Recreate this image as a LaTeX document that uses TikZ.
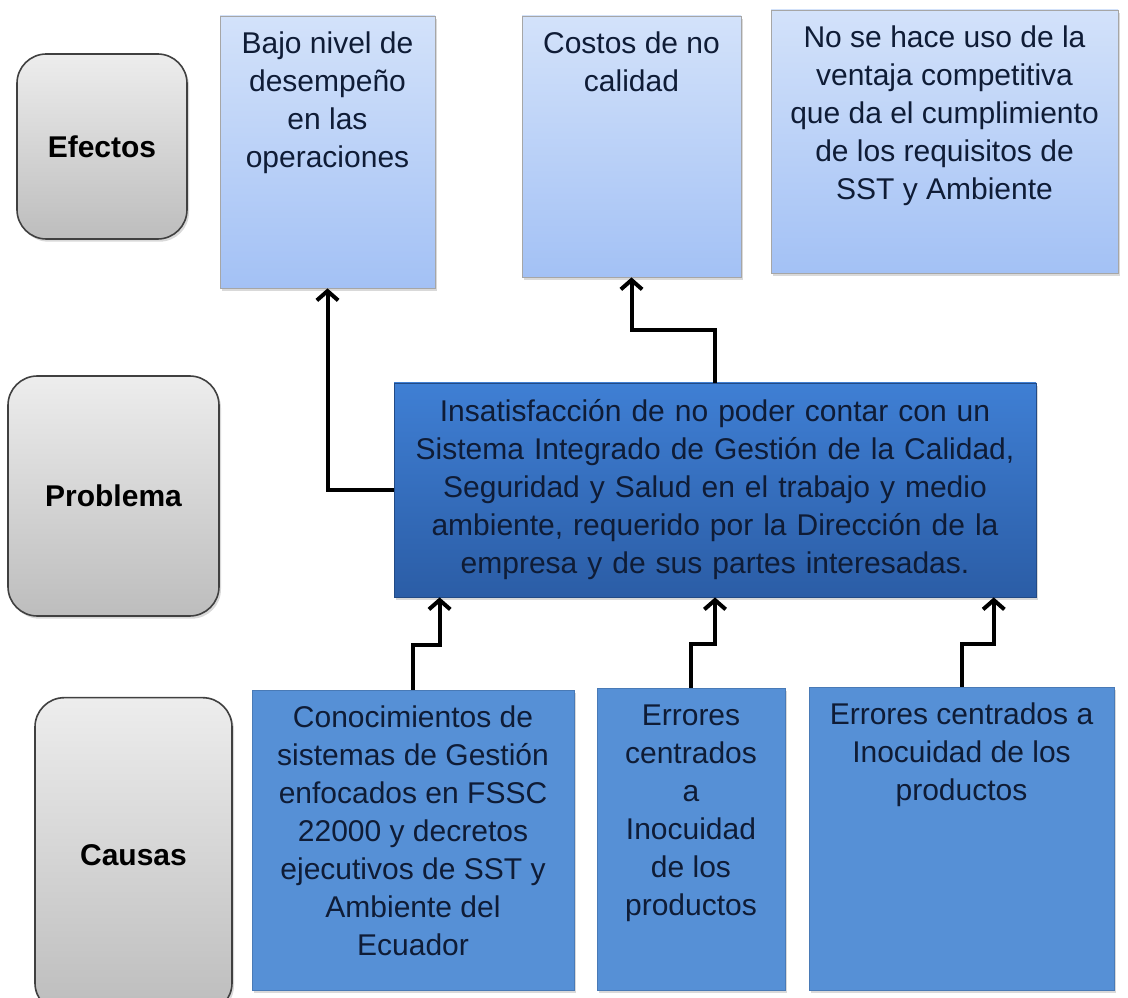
\documentclass[tikz,border=0pt]{standalone}
\usepackage{fontspec}
\setmainfont{Liberation Sans}
\usetikzlibrary{shapes,arrows.meta,positioning,shadows}

\definecolor{effecttop}{HTML}{D3E2FA}
\definecolor{effectbot}{HTML}{A3C1F5}
\definecolor{probtop}{HTML}{3F7FD4}
\definecolor{probbot}{HTML}{2B5DA6}
\definecolor{causefill}{HTML}{5690D6}
\definecolor{labeltop}{HTML}{EDEDED}
\definecolor{labelbot}{HTML}{BDBDBD}
\definecolor{textnavy}{HTML}{0F1C36}

% text set from the top of a box of fixed size
\newcommand{\boxtext}[3]{\parbox[c][#2][t]{#1}{\centering\rule{0pt}{28pt}#3\par}}

\begin{document}
\begin{tikzpicture}[
    x=0.75pt, y=-0.75pt,
    font=\fontsize{22.5pt}{28.5pt}\selectfont,
    rowlabel/.style={rectangle, rounded corners=22pt, draw=black!75, line width=1.2pt, top color=labeltop, bottom color=labelbot, font=\fontsize{22.5pt}{28.5pt}\selectfont\bfseries, drop shadow={opacity=0.3, shadow xshift=1.5pt, shadow yshift=-2pt}},
    effect/.style={rectangle, draw=black!35, line width=0.6pt, top color=effecttop, bottom color=effectbot, inner sep=0pt, text=textnavy, drop shadow={opacity=0.3, shadow xshift=1.5pt, shadow yshift=-2pt}},
    problem/.style={rectangle, draw=probbot!80!black, line width=0.6pt, top color=probtop, bottom color=probbot, inner sep=0pt, text=textnavy, text width=470pt, align=center, minimum width=481.5pt, minimum height=160.5pt, drop shadow={opacity=0.3, shadow xshift=1.5pt, shadow yshift=-2pt}},
    cause/.style={rectangle, draw=causefill!85!black, line width=0.6pt, fill=causefill, inner sep=0pt, text=textnavy, drop shadow={opacity=0.3, shadow xshift=1.5pt, shadow yshift=-2pt}},
    arrow/.style={line width=3pt, line join=miter, -{Straight Barb[length=7pt, width=16pt]}}
]
\useasboundingbox (0,0) rectangle (1128,998);

% Row labels
\node[rowlabel, minimum width=127.5pt, minimum height=138.75pt] (efectos) at (102,146.5) {Efectos};
\node[rowlabel, minimum width=158.25pt, minimum height=180pt] (problema) at (113.5,496) {Problema};
\node[rowlabel, minimum width=147.75pt, minimum height=236pt] (causas) at (133.5,855) {Causas};

% Effects
\node[effect] (bajo) at (327.5,152) {\boxtext{161.25pt}{204pt}{Bajo nivel de\\desempeño\\en las\\operaciones}};
\node[effect] (costos) at (631.5,146.5) {\boxtext{164.25pt}{195.75pt}{Costos de no\\calidad}};
\node[effect] (ventaja) at (944.5,141.5) {\boxtext{260.25pt}{197.25pt}{No se hace uso de la\\ventaja competitiva\\que da el cumplimiento\\de los requisitos de\\SST y Ambiente}};

% Problem
\node[problem] (insat) at (715,490) {Insatisfacción de no poder contar con un\\Sistema Integrado de Gestión de la Calidad,\\Seguridad y Salud en el trabajo y medio\\ambiente, requerido por la Dirección de la\\empresa y de sus partes interesadas.};

% Causes
\node[cause] (conoc) at (413,840) {\boxtext{241.5pt}{225pt}{Conocimientos de\\sistemas de Gestión\\enfocados en FSSC\\22000 y decretos\\ejecutivos de SST y\\Ambiente del\\Ecuador}};
\node[cause] (errores) at (691,839) {\boxtext{141pt}{226.5pt}{Errores\\centrados\\a\\Inocuidad\\de los\\productos}};
\node[cause] (inocuidad) at (961.5,838.5) {\boxtext{228.75pt}{227.25pt}{Errores centrados a\\Inocuidad de los\\productos}};

% Arrows
\draw[arrow] (insat.west) -| (bajo.south);
\draw[arrow] (insat.north) -- ++(0,-53) -| (costos.south);
\draw[arrow] (conoc.north) -- ++(0,-45) -| ([xshift=34.5pt]insat.south west);
\draw[arrow] (errores.north) -- ++(0,-44) -| (insat.south);
\draw[arrow] (inocuidad.north) -- ++(0,-43) -| ([xshift=-32pt]insat.south east);
\end{tikzpicture}
\end{document}
